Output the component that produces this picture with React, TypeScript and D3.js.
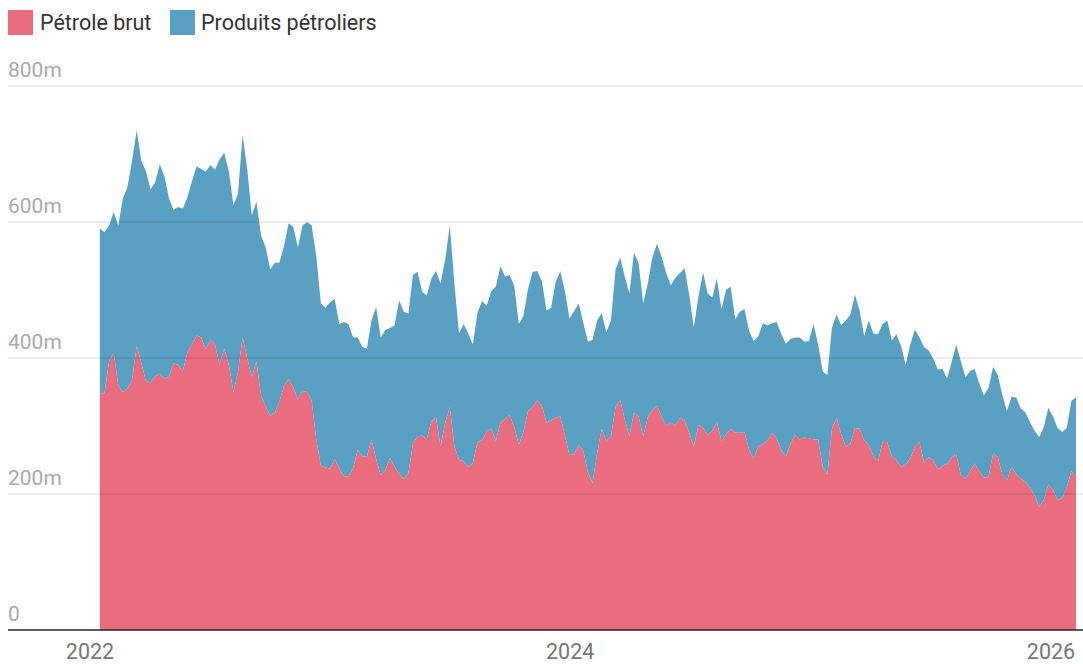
import React from 'react';
import * as d3 from 'd3';

const width = 1083;
const height = 664;

// weekly observations, first one on 16 Jan 2022
const startDate = new Date(2022, 0, 16);

const crude = [
  348, 348, 395, 408, 360, 350, 355, 368, 418, 393, 366, 364, 373, 377, 370, 372, 392, 390, 380, 408,
  420, 433, 430, 413, 426, 420, 390, 414, 390, 350, 380, 430, 400, 372, 395, 345, 329, 315, 320, 336,
  359, 369, 357, 339, 352, 350, 338, 280, 242, 239, 237, 252, 237, 226, 226, 238, 265, 255, 255, 280,
  251, 228, 235, 253, 240, 230, 222, 230, 274, 285, 286, 280, 307, 313, 270, 305, 328, 270, 250, 248,
  240, 245, 276, 279, 292, 296, 278, 305, 310, 316, 298, 272, 292, 322, 328, 338, 330, 305, 308, 312,
  314, 286, 257, 259, 272, 263, 232, 216, 260, 296, 278, 285, 328, 338, 310, 285, 320, 314, 285, 313,
  323, 330, 314, 300, 305, 300, 312, 308, 290, 270, 302, 297, 287, 293, 306, 278, 288, 296, 290, 290,
  291, 265, 252, 270, 274, 279, 290, 282, 264, 255, 274, 287, 280, 283, 282, 280, 280, 240, 228, 296,
  312, 288, 270, 274, 297, 296, 279, 272, 256, 248, 277, 276, 255, 250, 240, 243, 252, 270, 277, 246,
  254, 250, 236, 242, 244, 254, 258, 228, 222, 233, 245, 233, 224, 225, 260, 254, 229, 220, 240, 229,
  223, 218, 209, 198, 181, 191, 214, 206, 191, 194, 210, 234, 226
];

const products = [
  242, 237, 200, 207, 235, 285, 297, 322, 317, 297, 309, 284, 285, 308, 298, 263, 226, 232, 240, 228,
  240, 249, 248, 261, 258, 257, 302, 288, 285, 275, 262, 298, 278, 238, 235, 235, 234, 215, 220, 204,
  206, 229, 236, 224, 243, 250, 257, 270, 238, 235, 245, 235, 213, 227, 224, 192, 165, 161, 159, 176,
  224, 202, 206, 191, 208, 255, 246, 235, 248, 242, 211, 212, 210, 215, 240, 240, 267, 240, 186, 202,
  196, 175, 190, 205, 185, 202, 227, 230, 210, 206, 208, 178, 170, 180, 199, 190, 183, 165, 166, 200,
  214, 212, 201, 210, 208, 189, 192, 211, 195, 170, 160, 170, 202, 210, 210, 210, 235, 226, 195, 197,
  225, 238, 235, 225, 202, 218, 213, 224, 203, 175, 188, 229, 208, 196, 211, 194, 212, 209, 167, 178,
  181, 175, 173, 162, 177, 169, 161, 171, 171, 166, 154, 143, 150, 141, 143, 170, 140, 140, 147, 149,
  152, 160, 185, 190, 196, 174, 153, 183, 180, 187, 173, 179, 171, 185, 178, 147, 168, 172, 153, 170,
  157, 149, 147, 142, 126, 140, 162, 167, 150, 148, 139, 130, 121, 131, 127, 121, 117, 102, 103, 113,
  103, 102, 97, 95, 103, 107, 113, 108, 106, 97, 87, 103, 116
];

const seriesKeys = ['crude', 'products'];
const seriesLabels = ['Pétrole brut', 'Produits pétroliers'];
const seriesColors = ['#e96d7f', '#5aa0c3'];

const yTicks = [0, 200, 400, 600, 800];
const xTicks = [2022, 2024, 2026];

const rows = crude.map((c, i) => ({
  date: d3.timeDay.offset(startDate, i * 7),
  crude: c,
  products: products[i]
}));

export default function App() {
  const x = d3.scaleTime()
    .domain([new Date(2022, 0, 1), new Date(2026, 0, 1)])
    .range([90, 1051]);

  const y = d3.scaleLinear()
    .domain([0, 800])
    .range([630, 86]);

  const stacked = d3.stack().keys(seriesKeys)(rows as any);

  const drawArea = d3.area<any>()
    .x(d => x(d.data.date))
    .y0(d => y(d[0]))
    .y1(d => y(d[1]));

  const font = 'Roboto, "Noto Sans", sans-serif';

  return (
    <div style={{ position: 'absolute', left: 0, top: 0 }}>
      <svg width={width} height={height} style={{ display: 'block', fontFamily: font }}>
        {/* legend */}
        <g>
          <rect x={8} y={10} width={25} height={25} fill={seriesColors[0]} />
          <text x={40} y={30} fontSize={21.5} fill="#333">{seriesLabels[0]}</text>
          <rect x={170} y={10} width={25} height={25} fill={seriesColors[1]} />
          <text x={201} y={30} fontSize={21.5} fill="#333">{seriesLabels[1]}</text>
        </g>

        {stacked.map((s, i) => (
          <path key={s.key} d={drawArea(s as any) || ''} fill={seriesColors[i]} />
        ))}

        {/* gridlines on top of the areas */}
        {yTicks.filter(t => t > 0).map(t => (
          <line key={t} x1={8} x2={width} y1={y(t)} y2={y(t)} stroke="#000" strokeOpacity={0.1} strokeWidth={1.5} />
        ))}
        {yTicks.map(t => (
          <text key={'l' + t} x={8} y={y(t) - 9} fontSize={21} fill="#aaa">
            {t === 0 ? '0' : t + 'm'}
          </text>
        ))}

        <line x1={8} x2={width} y1={y(0)} y2={y(0)} stroke="#222" strokeWidth={1.5} />

        {xTicks.map(t => (
          <text key={t} x={x(new Date(t, 0, 1))} y={659} fontSize={21.5} fill="#777" textAnchor="middle">
            {t}
          </text>
        ))}
      </svg>
    </div>
  );
}
